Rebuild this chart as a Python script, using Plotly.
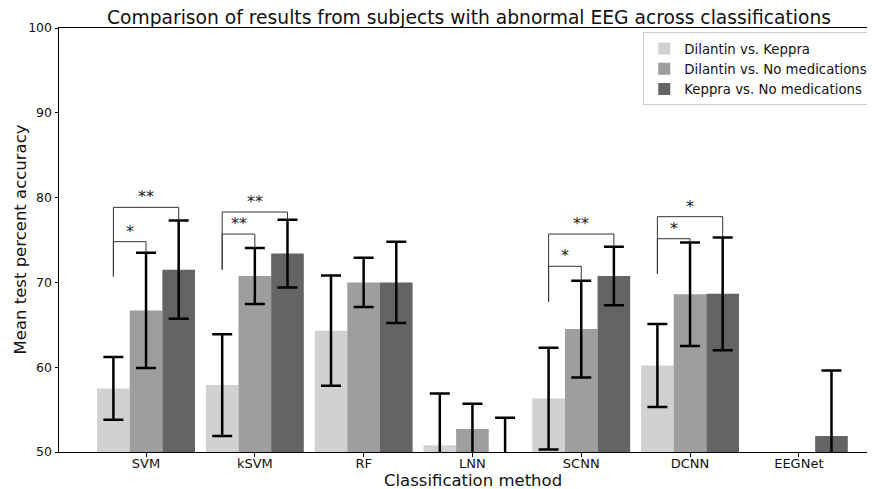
import plotly.graph_objects as go

methods = ["SVM", "kSVM", "RF", "LNN", "SCNN", "DCNN", "EEGNet"]
series_names = ["Dilantin vs. Keppra", "Dilantin vs. No medications", "Keppra vs. No medications"]
colors = ["#d0d1d0", "#9e9e9e", "#646464"]

dil_vs_kep = [57.5, 57.9, 64.3, 50.8, 56.3, 60.2, 45.0]
dil_vs_kep_err = [3.7, 6.0, 6.5, 6.1, 6.0, 4.9, 3.0]
dil_vs_none = [66.7, 70.75, 70.0, 52.7, 64.5, 68.6, 47.0]
dil_vs_none_err = [6.8, 3.3, 2.9, 3.0, 5.7, 6.1, 2.0]
kep_vs_none = [71.5, 73.4, 70.0, 47.5, 70.75, 68.65, 51.9]
kep_vs_none_err = [5.8, 4.0, 4.8, 6.55, 3.45, 6.65, 7.7]

values = [dil_vs_kep, dil_vs_none, kep_vs_none]
errors = [dil_vs_kep_err, dil_vs_none_err, kep_vs_none_err]

# significance brackets: (method index, target series index, bracket top, left-leg bottom, label)
brackets = [
    (0, 1, 74.8, 70.7, "*"),
    (0, 2, 78.85, 70.7, "**"),
    (1, 1, 75.7, 71.5, "**"),
    (1, 2, 78.3, 71.5, "**"),
    (4, 1, 71.9, 67.7, "*"),
    (4, 2, 75.7, 67.7, "**"),
    (5, 1, 75.15, 71.0, "*"),
    (5, 2, 77.75, 71.0, "*"),
]

FONT = "DejaVu Sans"
bar_w = 0.3
fig = go.Figure()
for name, v, e, c in zip(series_names, values, errors, colors):
    fig.add_trace(go.Bar(
        x=methods, y=v, name=name, marker=dict(color=c, line=dict(width=0)),
        error_y=dict(type="data", array=e, visible=True, color="black", thickness=2.5, width=10),
    ))

shapes = []
annotations = []
for gi, si, top, low, lab in brackets:
    xl = gi + (0 - 1) * bar_w
    xr = gi + (si - 1) * bar_w
    yr = values[si][gi] + errors[si][gi]
    shapes.append(dict(type="path", xref="x", yref="y",
                       path=f"M {xl},{low} L {xl},{top} L {xr},{top} L {xr},{yr}",
                       line=dict(color="#333333", width=1)))
    annotations.append(dict(x=(xl + xr) / 2, y=top, xref="x", yref="y", text=lab,
                            showarrow=False, xanchor="center", yanchor="bottom", yshift=-1,
                            font=dict(size=16, color="#1a1a1a", family=FONT)))

annotations.append(dict(x=0.503, y=1, xref="paper", yref="paper", xanchor="center", yanchor="bottom",
                        yshift=-2, height=21, valign="middle",
                        text="Comparison of results from subjects with abnormal EEG across classifications",
                        showarrow=False, font=dict(size=18.7, color="#111111", family=FONT)))
annotations.append(dict(x=0.507, y=0, xref="paper", yref="paper", xanchor="center", yanchor="middle",
                        yshift=-28, text="Classification method", showarrow=False,
                        font=dict(size=16.5, color="#111111", family=FONT)))
annotations.append(dict(x=0, y=0.5, xref="paper", yref="paper", xanchor="center", yanchor="middle",
                        xshift=-39.5, textangle=-90,
                        text="Mean test percent accuracy", showarrow=False,
                        font=dict(size=16.5, color="#111111", family=FONT)))

fig.update_layout(
    width=867, height=481,
    margin=dict(l=51, r=0, t=20, b=37),
    paper_bgcolor="white", plot_bgcolor="white",
    barmode="group", bargap=0.1, bargroupgap=0,
    font=dict(family=FONT, size=13, color="#111111"),
    showlegend=True,
    legend=dict(x=0.716, y=0.99, xanchor="left", yanchor="top",
                bordercolor="#cccccc", borderwidth=1, bgcolor="rgba(255,255,255,0.8)",
                font=dict(size=13.3, family=FONT, color="#111111"),
                tracegroupgap=0, itemwidth=30),
    shapes=shapes, annotations=annotations,
)
fig.update_xaxes(range=[-0.80, 6.70], showline=True, linecolor="black", linewidth=1,
                 mirror=True, ticks="outside", ticklen=3.5, tickcolor="black",
                 showgrid=False, tickfont=dict(size=13), ticklabelstandoff=-4)
fig.update_yaxes(range=[50, 100], showline=True, linecolor="black", linewidth=1,
                 ticks="outside", ticklen=3.5, tickcolor="black", tickvals=[50, 60, 70, 80, 90, 100],
                 showgrid=False, zeroline=False, tickfont=dict(size=12.5))

fig.write_html("out.html")
